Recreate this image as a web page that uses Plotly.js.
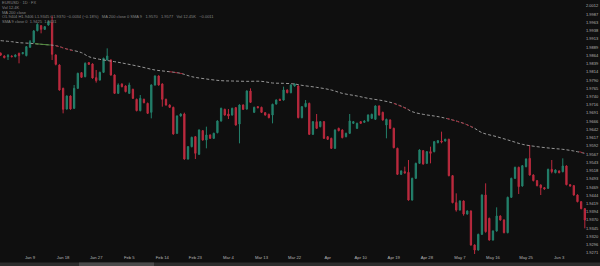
<!DOCTYPE html>
<html>
<head>
<meta charset="utf-8">
<script src="https://cdn.plot.ly/plotly-3.0.1.min.js"></script>
<style>
  html, body { margin: 0; padding: 0; background: #0f0f0f; }
  #chart { width: 600px; height: 266px; }
</style>
</head>
<body>
<div id="chart"></div>
<script>
// ---- data ----
const openP = [1.9870,1.9862,1.9860,1.9862,1.9860,1.9870,1.9869,1.9863,1.9888,1.9903,
1.9938,1.9953,1.9942,1.9955,1.9962,1.9865,1.9835,1.9765,1.9703,1.9742,
1.9705,1.9765,1.9812,1.9800,1.9842,1.9838,1.9797,1.9790,1.9813,1.9850,
1.9850,1.9805,1.9750,1.9778,1.9772,1.9750,1.9762,1.9732,1.9698,1.9732,
1.9720,1.9693,1.9775,1.9802,1.9778,1.9732,1.9715,1.9708,1.9630,1.9682,
1.9688,1.9553,1.9590,1.9620,1.9567,1.9638,1.9610,1.9625,1.9615,1.9632,
1.9667,1.9702,1.9688,1.9685,1.9707,1.9658,1.9715,1.9703,1.9757,1.9693,
1.9710,1.9708,1.9692,1.9687,1.9685,1.9718,1.9732,1.9730,1.9760,1.9752,
1.9772,1.9772,1.9677,1.9710,1.9720,1.9627,1.9665,1.9650,1.9665,1.9620,
1.9615,1.9585,1.9645,1.9640,1.9620,1.9630,1.9660,1.9645,1.9665,1.9663,
1.9667,1.9675,1.9672,1.9712,1.9693,1.9655,1.9670,1.9645,1.9585,1.9507,
1.9515,1.9513,1.9430,1.9495,1.9540,1.9578,1.9540,1.9575,1.9575,1.9602,
1.9607,1.9607,1.9612,1.9503,1.9422,1.9400,1.9427,1.9388,1.9397,1.9295,
1.9280,1.9327,1.9445,1.9375,1.9310,1.9337,1.9382,1.9370,1.9332,1.9438,
1.9495,1.9528,1.9472,1.9530,1.9555,1.9505,1.9488,1.9475,1.9467,1.9465,
1.9522,1.9512,1.9517,1.9515,1.9532,1.9476,1.9473,1.9445,1.9425,1.9404];
const highP = [1.9873,1.9864,1.9868,1.9864,1.9867,1.9872,1.9874,1.9892,1.9910,1.9940,
1.9960,1.9955,1.9952,1.9968,1.9982,1.9867,1.9837,1.9767,1.9744,1.9744,
1.9775,1.9812,1.9814,1.9843,1.9844,1.9840,1.9820,1.9815,1.9857,1.9885,
1.9852,1.9807,1.9780,1.9780,1.9774,1.9782,1.9764,1.9734,1.9745,1.9734,
1.9722,1.9777,1.9804,1.9804,1.9780,1.9734,1.9717,1.9710,1.9684,1.9690,
1.9692,1.9592,1.9620,1.9622,1.9642,1.9640,1.9650,1.9627,1.9632,1.9669,
1.9707,1.9704,1.9703,1.9707,1.9709,1.9717,1.9717,1.9759,1.9765,1.9710,
1.9712,1.9710,1.9694,1.9689,1.9719,1.9732,1.9734,1.9770,1.9762,1.9777,
1.9780,1.9774,1.9712,1.9730,1.9722,1.9667,1.9688,1.9667,1.9667,1.9622,
1.9617,1.9642,1.9647,1.9642,1.9632,1.9688,1.9667,1.9662,1.9667,1.9669,
1.9687,1.9689,1.9714,1.9714,1.9695,1.9674,1.9672,1.9647,1.9587,1.9519,
1.9530,1.9550,1.9497,1.9542,1.9582,1.9580,1.9577,1.9590,1.9607,1.9610,
1.9635,1.9614,1.9614,1.9505,1.9450,1.9429,1.9429,1.9399,1.9399,1.9297,
1.9329,1.9447,1.9480,1.9377,1.9339,1.9408,1.9384,1.9372,1.9440,1.9497,
1.9530,1.9530,1.9535,1.9555,1.9595,1.9507,1.9490,1.9477,1.9469,1.9524,
1.9550,1.9522,1.9519,1.9555,1.9534,1.9478,1.9475,1.9447,1.9427,1.9406];
const lowP = [1.9862,1.9855,1.9850,1.9858,1.9858,1.9840,1.9867,1.9861,1.9887,1.9901,
1.9936,1.9930,1.9940,1.9953,1.9850,1.9834,1.9758,1.9690,1.9701,1.9701,
1.9703,1.9763,1.9796,1.9798,1.9835,1.9794,1.9782,1.9788,1.9811,1.9848,
1.9803,1.9748,1.9748,1.9768,1.9753,1.9748,1.9733,1.9696,1.9696,1.9720,
1.9688,1.9675,1.9773,1.9773,1.9710,1.9713,1.9706,1.9626,1.9628,1.9680,
1.9551,1.9551,1.9588,1.9553,1.9565,1.9608,1.9585,1.9613,1.9613,1.9630,
1.9665,1.9683,1.9673,1.9683,1.9653,1.9600,1.9700,1.9701,1.9721,1.9691,
1.9705,1.9691,1.9683,1.9675,1.9660,1.9716,1.9727,1.9728,1.9750,1.9750,
1.9770,1.9675,1.9675,1.9708,1.9625,1.9625,1.9643,1.9648,1.9613,1.9610,
1.9583,1.9583,1.9636,1.9615,1.9618,1.9628,1.9658,1.9643,1.9658,1.9661,
1.9665,1.9673,1.9670,1.9683,1.9668,1.9615,1.9643,1.9585,1.9505,1.9505,
1.9509,1.9428,1.9428,1.9493,1.9538,1.9536,1.9538,1.9540,1.9573,1.9600,
1.9600,1.9605,1.9501,1.9420,1.9395,1.9398,1.9383,1.9386,1.9293,1.9265,
1.9278,1.9325,1.9332,1.9308,1.9308,1.9335,1.9368,1.9330,1.9330,1.9436,
1.9493,1.9448,1.9470,1.9528,1.9503,1.9486,1.9471,1.9445,1.9461,1.9463,
1.9510,1.9510,1.9510,1.9513,1.9474,1.9470,1.9443,1.9423,1.9402,1.9345];
const closeP = [1.9865,1.9857,1.9863,1.9860,1.9865,1.9863,1.9872,1.9890,1.9905,1.9937,
1.9957,1.9942,1.9950,1.9965,1.9867,1.9837,1.9760,1.9702,1.9742,1.9703,
1.9765,1.9810,1.9798,1.9840,1.9837,1.9796,1.9788,1.9813,1.9855,1.9862,
1.9805,1.9750,1.9775,1.9770,1.9755,1.9775,1.9735,1.9698,1.9735,1.9722,
1.9690,1.9775,1.9802,1.9775,1.9732,1.9715,1.9708,1.9628,1.9682,1.9688,
1.9553,1.9590,1.9618,1.9570,1.9640,1.9610,1.9625,1.9615,1.9630,1.9667,
1.9705,1.9685,1.9682,1.9705,1.9655,1.9715,1.9702,1.9757,1.9723,1.9708,
1.9707,1.9693,1.9685,1.9677,1.9717,1.9730,1.9729,1.9760,1.9752,1.9775,
1.9778,1.9677,1.9710,1.9720,1.9627,1.9665,1.9645,1.9665,1.9615,1.9612,
1.9585,1.9640,1.9638,1.9617,1.9630,1.9667,1.9665,1.9660,1.9660,1.9667,
1.9685,1.9687,1.9712,1.9685,1.9670,1.9672,1.9645,1.9587,1.9507,1.9517,
1.9511,1.9430,1.9495,1.9540,1.9580,1.9538,1.9575,1.9570,1.9605,1.9608,
1.9604,1.9612,1.9503,1.9422,1.9400,1.9427,1.9388,1.9397,1.9295,1.9280,
1.9327,1.9445,1.9335,1.9310,1.9337,1.9382,1.9370,1.9332,1.9438,1.9495,
1.9528,1.9470,1.9533,1.9553,1.9505,1.9488,1.9473,1.9467,1.9463,1.9522,
1.9515,1.9520,1.9512,1.9532,1.9476,1.9472,1.9445,1.9425,1.9404,1.9370];

// moving average, read at sample bars
const maX = [0,3,5,8,11,15,18,22,24,27,31,34,38,42,45,49,52,56,60,63,67,71,74,77,80,82,86,90,93,97,100,104,107,110,112,115,118,120,123,126,129,131,135,139,142,146,150,153,156,159];
const maY = [1.9908,1.9905,1.9902,1.9900,1.9897,1.9893,1.9883,1.9872,1.9860,1.9852,1.9845,1.9839,1.9830,1.9820,1.9816,1.9810,1.9800,1.9793,1.9788,1.9787,1.9786,1.9786,1.9781,1.9780,1.9778,1.9774,1.9768,1.9760,1.9750,1.9742,1.9735,1.9728,1.9720,1.9707,1.9695,1.9687,1.9682,1.9678,1.9670,1.9660,1.9645,1.9632,1.9620,1.9607,1.9597,1.9590,1.9585,1.9582,1.9577,1.9570];
// coloured stretches of the average
const maRedSegX = [[15,18,19.5],[46,49.5],[107,110,111],[121.5,123,126,128.5],[157.5,159]];
const maRedSegY = [[1.9893,1.9883,1.9878],[1.9815,1.9809],[1.9720,1.9707,1.9701],[1.9675,1.9670,1.9660,1.9648],[1.9575,1.9570]];
const maGreenSegX = [9.3,11,13.4];
const maGreenSegY = [1.9899,1.9897,1.9895];

const xTickPos = [8,17,26,35,44,53,62,71,80,89,98,107,116,125,134,143,152];
const xTickLabels = ['Jan 9','Jan 18','Jan 27','Feb 5','Feb 14','Feb 23','Mar 4','Mar 13','Mar 22','Apr','Apr 10','Apr 19','Apr 28','May 7','May 16','May 25','Jun 3'];

const legendLines = [
  'EURUSD · 1D · FX',
  'Vol 12.4K',
  'MA 200 close',
  'O1.9404 H1.9406 L1.9345 C1.9370 −0.0034 (−0.18%)   MA 200 close 0 SMA 9   1.9570   1.9577   Vol 12.45K   −0.0011',
  'SMA 9 close 0  1.9425  1.9431'
];

// ---- chart ----
const bars = [];
for (let i = 0; i < openP.length; i++) bars.push(i);

const GREEN = '#23806b';
const RED = '#bb2a3e';
const FONT = 'Liberation Sans, Arial, sans-serif';

const traces = [{
  type: 'candlestick',
  x: bars, open: openP, high: highP, low: lowP, close: closeP,
  increasing: {line: {color: GREEN, width: 1}, fillcolor: GREEN},
  decreasing: {line: {color: RED, width: 1}, fillcolor: RED},
  whiskerwidth: 0,
  hoverinfo: 'skip'
}, {
  type: 'scatter', mode: 'lines', x: maX, y: maY,
  line: {color: '#969696', width: 1, dash: '3px,2px', shape: 'spline'},
  hoverinfo: 'skip'
}];
maRedSegX.forEach((sx, k) => traces.push({
  type: 'scatter', mode: 'lines', x: sx, y: maRedSegY[k],
  line: {color: '#9c2232', width: 1, dash: '3px,2px'}, hoverinfo: 'skip'
}));
traces.push({
  type: 'scatter', mode: 'lines', x: maGreenSegX, y: maGreenSegY,
  line: {color: '#4f8a3a', width: 1}, hoverinfo: 'skip'
});

const PLOT_H = 254;
const annotations = legendLines.map((t, k) => ({
  xref: 'paper', yref: 'paper', x: 0, y: 1 - [3, 8, 12.5, 17, 22][k] / PLOT_H,
  xanchor: 'left', yanchor: 'middle', showarrow: false, text: t,
  font: {family: FONT, size: 4, color: '#858585'}
}));

const layout = {
  width: 600, height: 266,
  margin: {l: 0, r: 14, t: 0, b: 12},
  paper_bgcolor: '#0f0f0f', plot_bgcolor: '#0f0f0f',
  showlegend: false,
  boxgap: 0.5,
  xaxis: {
    range: [-0.18, 159.32], rangeslider: {visible: false},
    showgrid: false, zeroline: false, showline: false, ticks: '',
    tickmode: 'array', tickvals: xTickPos, ticktext: xTickLabels,
    tickfont: {family: FONT, size: 4.2, color: '#b4b4b4'}
  },
  yaxis: {
    side: 'right', range: [1.9268, 2.0030],
    showgrid: false, zeroline: false, showline: false, ticks: '',
    tick0: 2.0012, dtick: 0.00247, tickformat: '.4f',
    ticklabelstandoff: -1,
    tickfont: {family: FONT, size: 4, color: '#b4b4b4'}
  },
  annotations: annotations,
  shapes: [
    {type: 'rect', xref: 'paper', yref: 'paper', x0: 0, x1: 600 / 586, y0: -(266 - PLOT_H) / PLOT_H, y1: -(262.5 - PLOT_H) / PLOT_H,
     fillcolor: '#2c2c2c', line: {width: 0}, layer: 'above'},
    {type: 'rect', xref: 'paper', yref: 'paper', x0: 79 / 586, x1: 154 / 586, y0: -(266 - PLOT_H) / PLOT_H, y1: -(262.5 - PLOT_H) / PLOT_H,
     fillcolor: '#4a4a4a', line: {width: 0}, layer: 'above'}
  ]
};

Plotly.newPlot('chart', traces, layout, {displayModeBar: false, staticPlot: true});
</script>
</body>
</html>
